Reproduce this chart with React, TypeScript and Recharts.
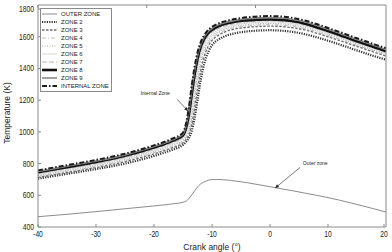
import React from "react";
import { LineChart, Line, XAxis, YAxis, Legend, ReferenceLine, ReferenceDot } from "recharts";

// crank angle samples (deg)
const crankAngles = [-40, -35, -30, -25, -20, -17, -15, -14.5, -14, -13.5, -13, -12.5, -12, -11.5, -11, -10.5, -10, -9, -8, -6, -4, -2, 0, 2, 4, 6, 8, 10, 12, 14, 16, 18, 20];

// temperatures (K)
const outerZone = [465, 480, 497, 515, 533, 545, 556, 562, 578, 602, 628, 652, 670, 682, 690, 696, 699, 700, 698, 690, 680, 667, 654, 641, 628, 614, 600, 585, 569, 551, 533, 514, 494];
const zone2 = [705, 735, 765, 800, 848, 885, 918, 935, 960, 1005, 1090, 1200, 1315, 1405, 1470, 1515, 1546, 1580, 1600, 1622, 1633, 1639, 1641, 1638, 1630, 1616, 1597, 1575, 1551, 1526, 1501, 1477, 1455];
const zone3 = [713, 744, 775, 812, 861, 898, 931, 950, 982, 1045, 1150, 1270, 1375, 1455, 1512, 1550, 1577, 1607, 1627, 1649, 1659, 1665, 1667, 1664, 1656, 1643, 1623, 1600, 1576, 1551, 1527, 1502, 1478];
const zone4 = [719, 750, 782, 819, 869, 906, 940, 962, 1000, 1080, 1195, 1310, 1410, 1482, 1532, 1567, 1591, 1619, 1637, 1658, 1668, 1674, 1676, 1673, 1665, 1651, 1631, 1608, 1584, 1558, 1534, 1509, 1486];
const zone5 = [725, 756, 788, 826, 876, 914, 948, 972, 1020, 1110, 1230, 1345, 1440, 1505, 1550, 1582, 1603, 1629, 1646, 1666, 1676, 1682, 1684, 1681, 1673, 1659, 1639, 1615, 1591, 1565, 1540, 1515, 1492];
const zone6 = [731, 763, 795, 833, 884, 922, 957, 985, 1045, 1150, 1270, 1385, 1470, 1530, 1570, 1597, 1616, 1640, 1656, 1675, 1685, 1691, 1693, 1690, 1682, 1667, 1647, 1623, 1598, 1572, 1547, 1522, 1499];
const zone7 = [737, 769, 801, 840, 891, 930, 966, 1000, 1070, 1185, 1310, 1420, 1500, 1552, 1587, 1611, 1628, 1650, 1665, 1683, 1693, 1699, 1701, 1698, 1690, 1675, 1654, 1630, 1605, 1579, 1554, 1528, 1505];
const zone8 = [745, 777, 810, 849, 901, 940, 978, 1022, 1105, 1235, 1360, 1460, 1530, 1575, 1606, 1628, 1643, 1664, 1678, 1695, 1703, 1708, 1709, 1706, 1697, 1682, 1660, 1636, 1611, 1584, 1559, 1533, 1509];
const zone9 = [750, 783, 816, 855, 907, 947, 985, 1035, 1125, 1260, 1385, 1480, 1545, 1588, 1617, 1638, 1652, 1673, 1686, 1703, 1713, 1719, 1721, 1718, 1709, 1694, 1672, 1647, 1622, 1595, 1570, 1544, 1520];
const internalZone = [757, 790, 823, 862, 915, 955, 995, 1050, 1150, 1290, 1410, 1500, 1560, 1600, 1628, 1648, 1662, 1682, 1695, 1712, 1722, 1728, 1730, 1727, 1718, 1702, 1680, 1655, 1630, 1603, 1578, 1552, 1528];

const xTicks = [-40, -30, -20, -10, 0, 10, 20];
const yTicks = [400, 600, 800, 1000, 1200, 1400, 1600, 1800];

const series = [
  { key: "outer", name: "OUTER ZONE", values: outerZone, stroke: "#8c8c8c", width: 1, dash: undefined },
  { key: "z2", name: "ZONE 2", values: zone2, stroke: "#333", width: 2.2, dash: "1.2 1.2" },
  { key: "z3", name: "ZONE 3", values: zone3, stroke: "#6e6e6e", width: 1.4, dash: "2.5 1.5" },
  { key: "z4", name: "ZONE 4", values: zone4, stroke: "#bdbdbd", width: 1, dash: "4 2 1 2" },
  { key: "z5", name: "ZONE 5", values: zone5, stroke: "#a8a8a8", width: 1.2, dash: "1 1.5" },
  { key: "z6", name: "ZONE 6", values: zone6, stroke: "#d6d6d6", width: 1, dash: undefined },
  { key: "z7", name: "ZONE 7", values: zone7, stroke: "#b5b5b5", width: 1, dash: "5 2" },
  { key: "z8", name: "ZONE 8", values: zone8, stroke: "#111", width: 2.6, dash: undefined },
  { key: "z9", name: "ZONE 9", values: zone9, stroke: "#8a8a8a", width: 1.6, dash: undefined },
  { key: "internal", name: "INTERNAL ZONE", values: internalZone, stroke: "#1a1a1a", width: 2, dash: "5 2 1.5 2" },
];

const data = crankAngles.map((angle, i) => {
  const row: Record<string, number> = { angle };
  series.forEach((s) => (row[s.key] = s.values[i]));
  return row;
});

const FRAME = "#8a8a8a";
const FONT = "'Liberation Sans', Arial, sans-serif";

const LeftTick = ({ x, y, payload }: any) => (
  <g>
    <line x1={x} x2={x + 3} y1={y} y2={y} stroke={FRAME} />
    <text transform={`translate(${x - 4},${y + 3}) scale(0.8,1)`} textAnchor="end" fontSize={8.5} fill="#222" fontFamily={FONT}>
      {payload.value}
    </text>
  </g>
);

const RightTick = ({ x, y }: any) => <line x1={x} x2={x - 3} y1={y} y2={y} stroke={FRAME} />;

const BottomTick = ({ x, y, payload }: any) => (
  <g>
    <line x1={x} x2={x} y1={y} y2={y - 3} stroke={FRAME} />
    <text transform={`translate(${x},${y + 10}) scale(0.75,1)`} textAnchor="middle" fontSize={9} fill="#222" fontFamily={FONT}>
      {payload.value}
    </text>
  </g>
);

const TopTick = ({ x, y }: any) => <line x1={x} x2={x} y1={y} y2={y + 3} stroke={FRAME} />;

const xTitle = ({ viewBox }: any) => (
  <text x={viewBox.x + viewBox.width / 2} y={viewBox.y + 23} textAnchor="middle" fontSize={8.5} fill="#222" fontFamily={FONT}>
    Crank angle (°)
  </text>
);

const yTitle = ({ viewBox }: any) => (
  <text transform={`translate(9.5,${viewBox.y + viewBox.height / 2 - 3}) rotate(-90)`} textAnchor="middle" fontSize={8.5} fill="#222" fontFamily={FONT}>
    Temperature (K)
  </text>
);

const Arrow = (props: any) => {
  const { x1, y1, x2, y2 } = props;
  const ang = Math.atan2(y2 - y1, x2 - x1);
  const len = 4;
  const spread = 0.45;
  const p1 = `${x2 - len * Math.cos(ang - spread)},${y2 - len * Math.sin(ang - spread)}`;
  const p2 = `${x2 - len * Math.cos(ang + spread)},${y2 - len * Math.sin(ang + spread)}`;
  return (
    <g>
      <line x1={x1} y1={y1} x2={x2} y2={y2} stroke="#555" strokeWidth={0.8} />
      <polygon points={`${x2},${y2} ${p1} ${p2}`} fill="#222" />
    </g>
  );
};

const note = (text: string) => ({ viewBox }: any) => (
  <text x={viewBox.x} y={viewBox.y + 2} textAnchor="middle" fontSize={5} fill="#222" fontFamily={FONT}>
    {text}
  </text>
);

const LegendBox = () => (
  <div style={{ border: `1px solid ${FRAME}`, background: "#fff", padding: "1px 0 1px 1px", width: 69, fontFamily: FONT, fontSize: 6, color: "#222" }}>
    {series.map((s) => (
      <div key={s.key} style={{ display: "flex", alignItems: "center", height: 8 }}>
        <svg width={15} height={8} style={{ display: "block" }}>
          <line x1={0} x2={15} y1={4} y2={4} stroke={s.stroke} strokeWidth={s.width} strokeDasharray={s.dash} />
        </svg>
        <span style={{ marginLeft: 4, whiteSpace: "nowrap", lineHeight: "8px" }}>{s.name}</span>
      </div>
    ))}
  </div>
);

export default function App() {
  return (
    <div style={{ position: "absolute", left: 0, top: 0, width: 392, height: 252, background: "#fff" }}>
      <LineChart width={392} height={252} data={data} margin={{ top: 0, right: 0, bottom: 0, left: 0 }}>
        <XAxis
          dataKey="angle"
          type="number"
          domain={[-40, 20]}
          ticks={xTicks}
          height={25}
          stroke={FRAME}
          tickSize={0}
          tickMargin={0}
          tickLine={false}
          tick={BottomTick}
          label={xTitle}
        />
        <XAxis xAxisId="top" orientation="top" type="number" domain={[-40, 20]} ticks={xTicks} height={5} stroke={FRAME} tickSize={0} tickMargin={0} tickLine={false} tick={TopTick} />
        <YAxis
          type="number"
          domain={[400, 1800]}
          ticks={yTicks}
          width={38}
          stroke={FRAME}
          tickSize={0}
          tickMargin={0}
          tickLine={false}
          tick={LeftTick}
          label={yTitle}
        />
        <YAxis yAxisId="right" orientation="right" type="number" domain={[400, 1800]} ticks={yTicks} width={6} stroke={FRAME} tickSize={0} tickMargin={0} tickLine={false} tick={RightTick} />
        <Legend layout="horizontal" verticalAlign="middle" align="center" content={LegendBox} wrapperStyle={{ position: "absolute", left: 40, top: 8, width: "auto" }} />
        {series.map((s) => (
          <Line
            key={s.key}
            dataKey={s.key}
            name={s.name}
            type="monotone"
            stroke={s.stroke}
            strokeWidth={s.width}
            strokeDasharray={s.dash}
            dot={false}
            isAnimationActive={false}
          />
        ))}
        <ReferenceLine segment={[{ x: -16.0, y: 1205 }, { x: -14.15, y: 1132 }]} shape={Arrow} />
        <ReferenceLine segment={[{ x: 5.2, y: 776 }, { x: 0.9, y: 646 }]} shape={Arrow} />
        <ReferenceDot x={-19.8} y={1245} r={0} stroke="none" label={note("Internal Zone")} />
        <ReferenceDot x={7.8} y={805} r={0} stroke="none" label={note("Outer zone")} />
      </LineChart>
    </div>
  );
}
